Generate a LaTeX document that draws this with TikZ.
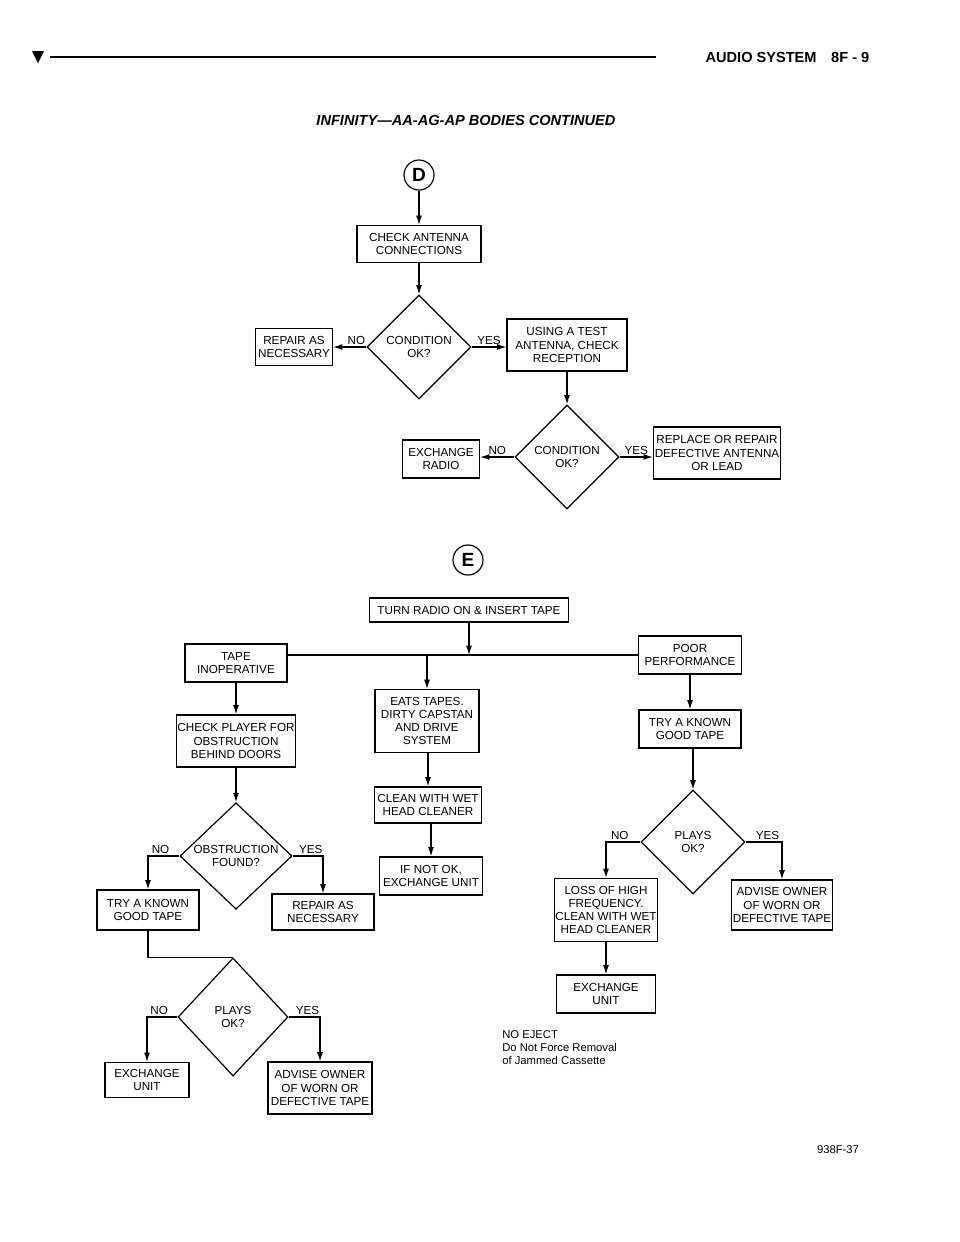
\documentclass[tikz,border=0pt]{standalone}
\usepackage{fontspec}
\setmainfont{Liberation Sans}
\usetikzlibrary{shapes.geometric,arrows.meta}
\def\u{0.0265cm}
\tikzset{
  box/.style={draw, line width=0.9pt, align=center, inner sep=1pt,
    font=\fontsize{8.8}{10}\selectfont},
  dia/.style={draw, diamond, line width=0.9pt, align=center, inner sep=0pt,
    minimum width=104*\u, minimum height=104*\u, font=\fontsize{8.8}{10}\selectfont},
  lbl/.style={inner sep=1pt, font=\fontsize{8.8}{10}\selectfont},
  flow/.style={line width=0.9pt, -{Latex[length=7pt,width=4.5pt]}},
  plain/.style={line width=0.9pt},
  letter/.style={draw, circle, line width=0.9pt, minimum size=30*\u, inner sep=0pt,
    font=\bfseries\Large}
}
\begin{document}
\begin{tikzpicture}[x=\u, y=-\u]
  \useasboundingbox (0,0) rectangle (960,1242);

  % header
  \fill (32,51) -- (44,51) -- (38,63) -- cycle;
  \draw[line width=1.3pt] (50,57) -- (656,57);
  \node[anchor=east, font=\bfseries\fontsize{11}{12}\selectfont] (hdr) at (874,57) {AUDIO SYSTEM\quad 8F - 9};
  \node[font=\bfseries\itshape\fontsize{11}{12}\selectfont] (title) at (466,120) {INFINITY---AA-AG-AP BODIES CONTINUED};

  % part D
  \node[letter] (D) at (419,175) {D};
  \node[box, minimum width=124*\u, minimum height=37*\u] (ant) at (419,244) {CHECK ANTENNA\\CONNECTIONS};
  \node[dia] (cond1) at (419,347) {CONDITION\\OK?};
  \node[box, minimum width=77*\u, minimum height=37*\u] (rep1) at (294,347) {REPAIR AS\\NECESSARY};
  \node[box, minimum width=120*\u, minimum height=52*\u] (test) at (567,345) {USING A TEST\\ANTENNA, CHECK\\RECEPTION};
  \node[dia] (cond2) at (567,457) {CONDITION\\OK?};
  \node[box, minimum width=77*\u, minimum height=38*\u] (exrad) at (441,459) {EXCHANGE\\RADIO};
  \node[box, minimum width=122*\u, minimum height=52*\u] (repl) at (717,453) {REPLACE OR REPAIR\\DEFECTIVE ANTENNA\\OR LEAD};

  \draw[flow] (D) -- (ant);
  \draw[flow] (ant) -- (cond1);
  \draw[flow] (cond1.west) -- node[lbl, above, pos=0.3] {NO} (rep1);
  \draw[flow] (cond1.east) -- node[lbl, above] {YES} (test.west |- cond1.east);
  \draw[flow] (test) -- (cond2);
  \draw[flow] (cond2.west) -- node[lbl, above] {NO} (exrad.east |- cond2.west);
  \draw[flow] (cond2.east) -- node[lbl, above] {YES} (repl.west |- cond2.east);

  % part E
  \node[letter] (E) at (468,560) {E};
  \node[box, minimum width=199*\u, minimum height=24*\u] (turn) at (469,610) {TURN RADIO ON \& INSERT TAPE};
  \node[box, minimum width=102*\u, minimum height=38*\u] (inop) at (236,663) {TAPE\\INOPERATIVE};
  \node[box, minimum width=103*\u, minimum height=38*\u] (poor) at (690,655) {POOR\\PERFORMANCE};
  \coordinate (bus) at (469,655);
  \coordinate (eatsin) at (427,655);
  \draw[plain] (inop.east |- bus) -- (poor.west |- bus);
  \draw[flow] (turn) -- (bus);

  % middle branch
  \node[box, minimum width=104*\u, minimum height=63*\u] (eats) at (427,721) {EATS TAPES.\\DIRTY CAPSTAN\\AND DRIVE\\SYSTEM};
  \node[box, minimum width=107*\u, minimum height=36*\u] (clean) at (428,805) {CLEAN WITH WET\\HEAD CLEANER};
  \node[box, minimum width=103*\u, minimum height=38*\u] (ifnot) at (431,876) {IF NOT OK,\\EXCHANGE UNIT};
  \draw[flow] (eatsin) -- (eats);
  \draw[flow] (eats.south -| clean) -- (clean);
  \draw[flow] (clean.south -| ifnot) -- (ifnot);

  % left branch
  \node[box, minimum width=119*\u, minimum height=52*\u] (chk) at (236,741) {CHECK PLAYER FOR\\OBSTRUCTION\\BEHIND DOORS};
  \node[dia, minimum width=112*\u, minimum height=106*\u] (obst) at (236,856) {OBSTRUCTION\\FOUND?};
  \node[box, minimum width=102*\u, minimum height=40*\u] (try1) at (148,910) {TRY A KNOWN\\GOOD TAPE};
  \node[box, minimum width=102*\u, minimum height=36*\u] (rep2) at (323,912) {REPAIR AS\\NECESSARY};
  \node[dia, minimum width=110*\u, minimum height=118*\u] (plays1) at (233,1017) {PLAYS\\OK?};
  \node[box, minimum width=84*\u, minimum height=35*\u] (exu1) at (147,1080) {EXCHANGE\\UNIT};
  \node[box, minimum width=104*\u, minimum height=52*\u] (adv1) at (320,1088) {ADVISE OWNER\\OF WORN OR\\DEFECTIVE TAPE};
  \draw[flow] (inop) -- (chk);
  \draw[flow] (chk) -- (obst);
  \draw[flow] (obst.west) -- node[lbl, above, pos=0.6] {NO} (try1.north |- obst.west) -- (try1);
  \draw[flow] (obst.east) -- node[lbl, above, pos=0.6] {YES} (rep2.north |- obst.east) -- (rep2);
  \draw[plain] (try1) -- (try1.south |- plays1.north) -- (plays1.north);
  \draw[flow] (plays1.west) -- node[lbl, above, pos=0.6] {NO} (exu1.north |- plays1.west) -- (exu1);
  \draw[flow] (plays1.east) -- node[lbl, above, pos=0.6] {YES} (adv1.north |- plays1.east) -- (adv1);

  % right branch
  \node[box, minimum width=102*\u, minimum height=38*\u] (try2) at (690,729) {TRY A KNOWN\\GOOD TAPE};
  \node[dia] (plays2) at (693,842) {PLAYS\\OK?};
  \node[box, minimum width=101*\u, minimum height=63*\u] (loss) at (606,910) {LOSS OF HIGH\\FREQUENCY.\\CLEAN WITH WET\\HEAD CLEANER};
  \node[box, minimum width=101*\u, minimum height=50*\u] (adv2) at (782,905) {ADVISE OWNER\\OF WORN OR\\DEFECTIVE TAPE};
  \node[box, minimum width=99*\u, minimum height=38*\u] (exu2) at (606,994) {EXCHANGE\\UNIT};
  \draw[flow] (poor) -- (try2);
  \draw[flow] (try2.south -| plays2) -- (plays2);
  \draw[flow] (plays2.west) -- node[lbl, above, pos=0.6] {NO} (loss.north |- plays2.west) -- (loss);
  \draw[flow] (plays2.east) -- node[lbl, above, pos=0.6] {YES} (adv2.north |- plays2.east) -- (adv2);
  \draw[flow] (loss) -- (exu2);

  \node[anchor=north west, align=left, inner sep=0pt, font=\fontsize{8.5}{9.8}\selectfont] (eject) at (502,1030)
    {NO EJECT\\Do Not Force Removal\\of Jammed Cassette};
  \node[font=\fontsize{8.5}{10}\selectfont] (fig) at (838,1150) {938F-37};
\end{tikzpicture}
\end{document}
